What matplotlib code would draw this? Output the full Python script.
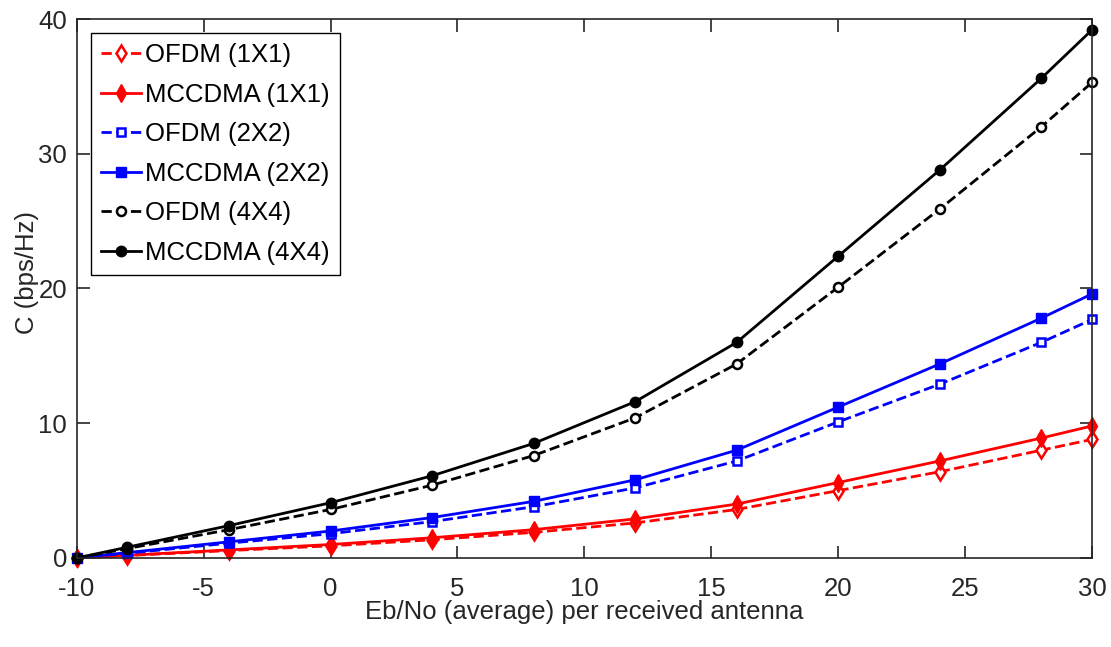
import numpy as np
import matplotlib
matplotlib.use("Agg")
import matplotlib.pyplot as plt

plt.rcParams['font.family'] = ['Liberation Sans', 'DejaVu Sans']
plt.rcParams['axes.unicode_minus'] = False

# Data
snr = [-10, -8, -4, 0, 4, 8, 12, 16, 20, 24, 28, 30]

ofdm_1x1 = [0, 0.18, 0.55, 0.9, 1.35, 1.9, 2.6, 3.6, 5.0, 6.4, 8.0, 8.8]
mccdma_1x1 = [0, 0.2, 0.6, 1.0, 1.5, 2.1, 2.9, 4.0, 5.6, 7.2, 8.9, 9.8]
ofdm_2x2 = [0, 0.35, 1.1, 1.8, 2.7, 3.8, 5.2, 7.2, 10.1, 12.9, 16.0, 17.7]
mccdma_2x2 = [0, 0.4, 1.2, 2.0, 3.0, 4.2, 5.8, 8.0, 11.2, 14.4, 17.8, 19.6]
ofdm_4x4 = [0, 0.7, 2.1, 3.6, 5.4, 7.6, 10.4, 14.4, 20.1, 25.9, 32.0, 35.3]
mccdma_4x4 = [0, 0.8, 2.4, 4.1, 6.1, 8.5, 11.6, 16.0, 22.4, 28.8, 35.6, 39.2]

labels = ['OFDM (1X1)', 'MCCDMA (1X1)', 'OFDM (2X2)',
          'MCCDMA (2X2)', 'OFDM (4X4)', 'MCCDMA (4X4)']

text_col = '#262626'

fig = plt.figure(figsize=(11.11, 6.47), dpi=100)
ax = fig.add_axes([0.069, 0.1376, 0.914, 0.833])

lw = 2.0
ax.plot(snr, ofdm_1x1, 'r--d', mfc='white', mew=1.8, ms=8, lw=lw, label=labels[0], clip_on=False)
ax.plot(snr, mccdma_1x1, 'r-d', ms=9, lw=lw, label=labels[1], clip_on=False)
ax.plot(snr, ofdm_2x2, 'b--s', mfc='white', mew=1.8, ms=6, lw=lw, label=labels[2], clip_on=False)
ax.plot(snr, mccdma_2x2, 'b-s', ms=6.5, lw=lw, label=labels[3], clip_on=False)
ax.plot(snr, ofdm_4x4, 'k--o', mfc='white', mew=1.8, ms=6.5, lw=lw, label=labels[4], clip_on=False)
ax.plot(snr, mccdma_4x4, 'k-o', ms=7.5, lw=lw, label=labels[5], clip_on=False)

ax.set_xlim(-10, 30)
ax.set_ylim(0, 40)
ax.set_xticks(np.arange(-10, 31, 5))
ax.set_yticks(np.arange(0, 41, 10))
ax.tick_params(direction='in', top=True, right=True, labelsize=18.5,
               length=9, width=1.2, color=text_col, labelcolor=text_col)
ax.tick_params(axis='x', pad=14)
ax.tick_params(axis='y', pad=7)
for s in ax.spines.values():
    s.set_color(text_col)
    s.set_linewidth(1.2)

ax.set_xlabel('Eb/No (average) per received antenna', fontsize=18.5, color=text_col, labelpad=-1)
ax.set_ylabel('C (bps/Hz)', fontsize=18.5, color=text_col)
ax.yaxis.set_label_coords(-0.037, 0.53)

leg = ax.legend(loc='upper left', fontsize=18.5, fancybox=False, edgecolor='black',
                handlelength=1.55, handletextpad=0.15, labelspacing=0.6,
                borderaxespad=0.55, borderpad=0.4, framealpha=1)
leg.get_frame().set_linewidth(1.0)

plt.savefig('out.png', dpi=100)
